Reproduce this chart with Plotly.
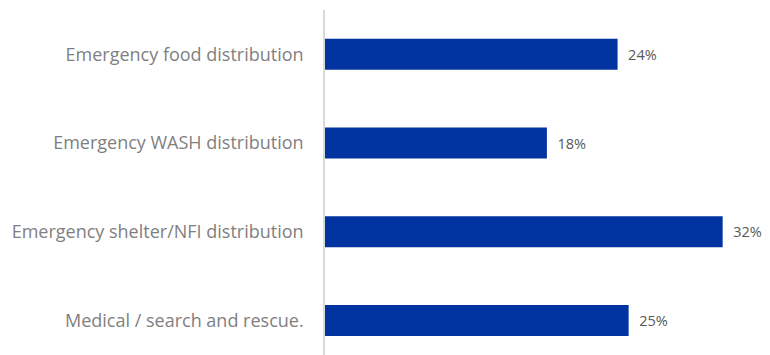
import plotly.graph_objects as go

categories = ["Emergency food distribution", "Emergency WASH distribution",
              "Emergency shelter/NFI distribution", "Medical / search and rescue."]
values = [23.8, 18.05, 32.35, 24.7]

fig = go.Figure(go.Bar(
    x=values, y=categories, orientation="h",
    marker=dict(color="#0033A0", line=dict(width=0)),
    text=values, texttemplate="  %{x:.0f}%", textposition="outside",
    textfont=dict(family="Open Sans", size=14.5, color="#595959"),
    cliponaxis=False, hoverinfo="skip",
))

# page body has an 8px margin; compensate so the plot area sits where the reference's does
fig.update_layout(
    width=762, height=347,
    margin=dict(l=317, r=0, t=2, b=0, autoexpand=False),
    paper_bgcolor="white", plot_bgcolor="white",
    bargap=0.65, showlegend=False,
    font=dict(family="Open Sans", size=18, color="#7f7f7f"),
)
fig.update_xaxes(range=[0, 36.2], visible=False, showgrid=False)
fig.update_yaxes(
    categoryorder="array", categoryarray=categories,
    range=[3.39, -0.5], showgrid=False, zeroline=False,
    showline=True, linecolor="#d9d9d9", linewidth=1.5,
    ticks="", ticklabelstandoff=16,
    tickfont=dict(family="Open Sans", size=18, color="#7f7f7f"),
)

fig.write_html("out.html")
